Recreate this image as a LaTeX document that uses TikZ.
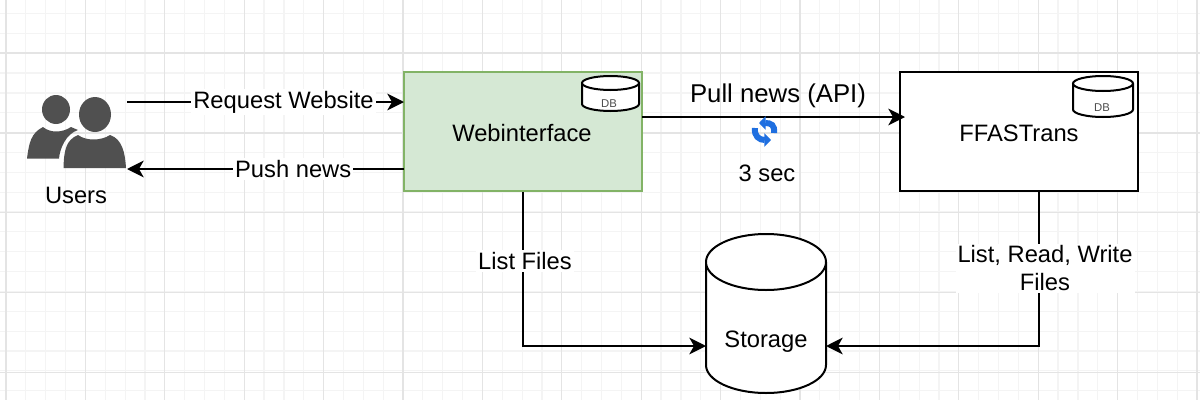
\documentclass[tikz,border=0pt]{standalone}
\usepackage{fontspec}
\setmainfont{Liberation Sans}
\usepackage{xcolor}
\usetikzlibrary{arrows.meta}
\definecolor{minorgrid}{HTML}{F4F4F4}
\definecolor{majorgrid}{HTML}{E4E4E4}
\definecolor{webfill}{HTML}{D5E8D4}
\definecolor{webline}{HTML}{82B366}
\definecolor{usergray}{HTML}{505050}
\definecolor{syncblue}{HTML}{1F6FE0}

\begin{document}
\begin{tikzpicture}[x=0.75pt,y=-0.75pt,font=\fontsize{17.8pt}{21pt}\selectfont,
flow/.style={draw,line width=1.5pt,-{Stealth[length=12.5pt,width=12.5pt,inset=3.5pt]}},
box/.style={draw,line width=1.5pt,minimum width=178.5pt,minimum height=89pt,inner sep=0pt},
edge label/.style={fill=white,inner sep=1.5pt,align=center},
small text/.style={font=\fontsize{8.5pt}{10pt}\selectfont,text=black!70},
sync/.style={syncblue,line width=4.5pt,-{Triangle[length=5pt,width=10pt]}}]
\useasboundingbox (0,0) rectangle (1200,400);

% Draw grid
\foreach \i in {0,...,60} {
  \pgfmathsetmacro{\gx}{6+19.85*\i}
  \draw[minorgrid,line width=0.9pt] (\gx,0) -- (\gx,400);
}
\foreach \i in {0,...,20} {
  \pgfmathsetmacro{\gy}{13.5+19.85*\i}
  \draw[minorgrid,line width=0.9pt] (0,\gy) -- (1200,\gy);
}
\foreach \i in {0,...,15} {
  \pgfmathsetmacro{\gx}{6+79.4*\i}
  \draw[majorgrid,line width=0.9pt] (\gx,0) -- (\gx,400);
}
\foreach \i in {0,...,4} {
  \pgfmathsetmacro{\gy}{53+79.9*\i}
  \draw[majorgrid,line width=0.9pt] (0,\gy) -- (1200,\gy);
}

% Boxes
\node[box,draw=webline,fill=webfill] (Web) at (523,131.5) {};
\node (WebText) at (522,133) {Webinterface};
\node[box,fill=white] (FFAS) at (1019.2,131.5) {};
\node (FFASText) at (1019,133) {FFASTrans};

% Cylinders: centre x / top y / bottom y / radius x / radius y
\foreach \cx/\ct/\cb/\rx/\ry in {610.5/76/111/28.5/7,1103/76/117/30/7.5,766/234/393/60/28} {
  \draw[fill=white,line width=1.5pt] (\cx-\rx,\ct+\ry) -- (\cx-\rx,\cb-\ry)
    arc (180:360:\rx*0.75pt and \ry*0.75pt) -- (\cx+\rx,\ct+\ry);
  \draw[fill=white,line width=1.5pt] (\cx,\ct+\ry) ellipse ({\rx*0.75pt} and {\ry*0.75pt});
}
\node[small text] (WebDBText) at (609,104) {DB};
\node[small text] (FFASDBText) at (1102,108) {DB};
\node (StorageText) at (766,341.5) {Storage};

% Users
\fill[usergray] (56,109.5) ellipse ({14*0.75pt} and {14.5*0.75pt});
\fill[usergray] (95,114.5) ellipse ({16*0.75pt} and {17.5*0.75pt});
\fill[usergray] (27,158.5) .. controls (29,143) and (31,133) .. (43,127)
  .. controls (50,133) and (62,133) .. (71,127) -- (78,130)
  .. controls (66,134) and (60,148) .. (59,158.5) -- cycle;
\fill[usergray] (63.5,168) .. controls (64,150) and (66,140) .. (78,135)
  .. controls (86,141) and (101,141) .. (110,135)
  .. controls (122,139) and (125,152) .. (126,168) -- cycle;
\node (UsersText) at (76,195) {Users};
\coordinate (UsersOut) at (127,102);
\coordinate (UsersIn) at (127,169);

% Connectors
\coordinate (WebIn) at (404,102);
\coordinate (WebOut) at (404,169);
\coordinate (WebPull) at (642,117);
\coordinate (FFASPull) at (905,117);
\coordinate (FFASDown) at (1039,191);
\coordinate (StorageLeft) at (706,346);
\coordinate (StorageRight) at (826,346);
\draw[flow] (UsersOut) -- node[edge label,pos=0.565] (ReqText) {Request Website} (WebIn);
\draw[flow] (WebOut) -- node[edge label,pos=0.40] (PushText) {Push news} (UsersIn);
\draw[flow] (WebPull) -- (FFASPull);
\draw[flow] (Web.south) -- node[edge label,pos=0.45,xshift=1.5pt] (ListText) {List Files} (Web.south |- StorageLeft) -- (StorageLeft);
\draw[flow] (FFASDown) -- node[edge label,pos=0.50,xshift=4.5pt] (RWText) {List, Read, Write\\Files} (FFASDown |- StorageRight) -- (StorageRight);
\node[font=\fontsize{19.3pt}{23pt}\selectfont] (PullText) at (778,96) {Pull news (API)};
\node (SecText) at (767,173) {3 sec};

% Sync icon
\draw[sync] (774,133) .. controls (775,125) and (771,123) .. (759,123);
\draw[sync] (755,128) .. controls (754,136) and (759,140) .. (771,140);
\end{tikzpicture}
\end{document}
